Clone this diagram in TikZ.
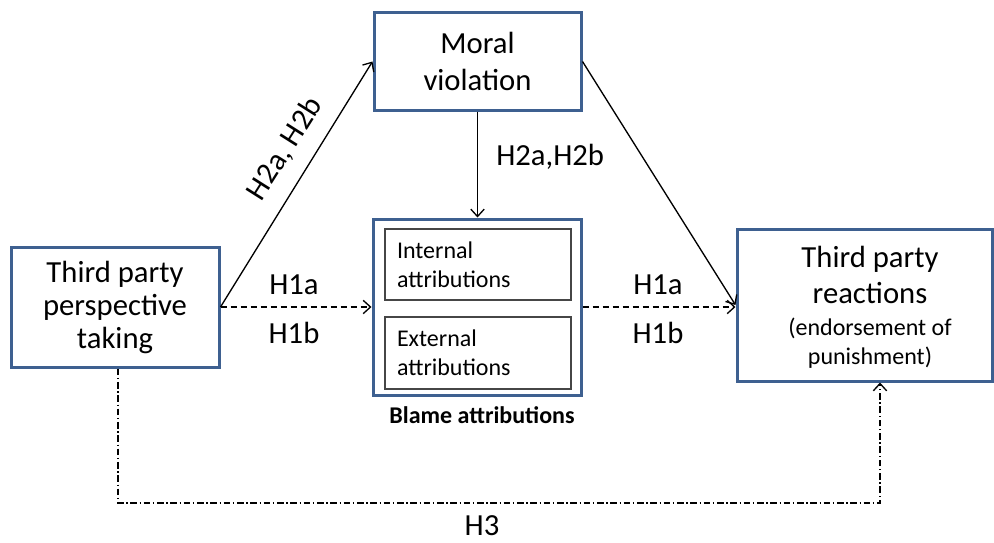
\documentclass[tikz,border=0pt]{standalone}
\usepackage{fontspec}
\setmainfont{Carlito}
\usetikzlibrary{arrows.meta}
\definecolor{boxblue}{RGB}{62,96,144}
\definecolor{innergray}{RGB}{70,70,70}
\begin{document}
\begin{tikzpicture}[x=0.75pt,y=-0.75pt,
  bigbox/.style={draw=boxblue, line width=2.25pt, fill=white, inner sep=0pt, align=center},
  innerbox/.style={draw=innergray, line width=0.8pt, minimum width=139.5pt, inner sep=0pt,
     text width=121.5pt, align=left, font=\fontsize{18}{21.75}\selectfont},
  conn/.style={line width=1pt, -{Straight Barb[length=5.5pt,width=10pt,line width=1pt]}},
  dconn/.style={conn, dash pattern=on 4.5pt off 3pt},
  ddconn/.style={conn, dash pattern=on 5pt off 2pt on 1pt off 2pt},
  lab/.style={font=\fontsize{23}{27}\selectfont, inner sep=0pt},
  small/.style={font=\fontsize{18}{21}\selectfont, inner sep=0pt}]
\useasboundingbox (0,0) rectangle (994,542);

% main boxes
\node[bigbox, minimum width=156pt, minimum height=90pt, font=\fontsize{23}{24.75}\selectfont]
  (left) at (115,307) {Third party\\perspective\\taking};
\node[bigbox, minimum width=155.25pt, minimum height=72.75pt, font=\fontsize{23}{28}\selectfont]
  (moral) at (477.5,61.5) {Moral\\violation};
\node[bigbox, minimum width=156pt, minimum height=132pt] (blame) at (477,307) {};
\node[innerbox, minimum height=53.25pt] (internal) at (478,264.5) {Internal\\attributions};
\node[innerbox, minimum height=54pt] (external) at (478,353) {External\\attributions};
\node[font=\bfseries\fontsize{18}{22}\selectfont, anchor=base, inner sep=0pt]
  (blamelab) at (482,423) {Blame attributions};
\node[bigbox, minimum width=191.25pt, minimum height=114pt] (right) at (864.5,305) {};
\node[lab, anchor=base] (rt1) at (870,267) {Third party};
\node[lab, anchor=base] (rt2) at (870,303) {reactions};
\node[small, anchor=base] (rt3) at (870,335) {(endorsement of};
\node[small, anchor=base] (rt4) at (870,364) {punishment)};

% connectors
\draw[conn] (left.east) -- (moral.west);
\draw[conn] (moral.south) -- (moral.south |- blame.north);
\draw[conn] (moral.east) -- (right.west);
\draw[dconn] (left.east) -- (blame.west);
\draw[dconn] (blame.east) -- (blame.east -| right.west);
\coordinate (h3a) at (118,503);
\coordinate (h3b) at (880,503);
\draw[ddconn] (left.south -| h3a) -- (h3a) -- (h3b) -- (right.south -| h3b);

% labels
\node[lab, rotate=57.7] (l2left) at (285,149) {H2a, H2b};
\node[lab, anchor=base west] (l2mid) at (496,165) {H2a,H2b};
\node[lab, anchor=base] (l1a) at (294,294) {H1a};
\node[lab, anchor=base] (l1b) at (294,343) {H1b};
\node[lab, anchor=base] (r1a) at (658,294) {H1a};
\node[lab, anchor=base] (r1b) at (658,343) {H1b};
\node[lab, anchor=base] (l3) at (482,535) {H3};
\end{tikzpicture}
\end{document}
